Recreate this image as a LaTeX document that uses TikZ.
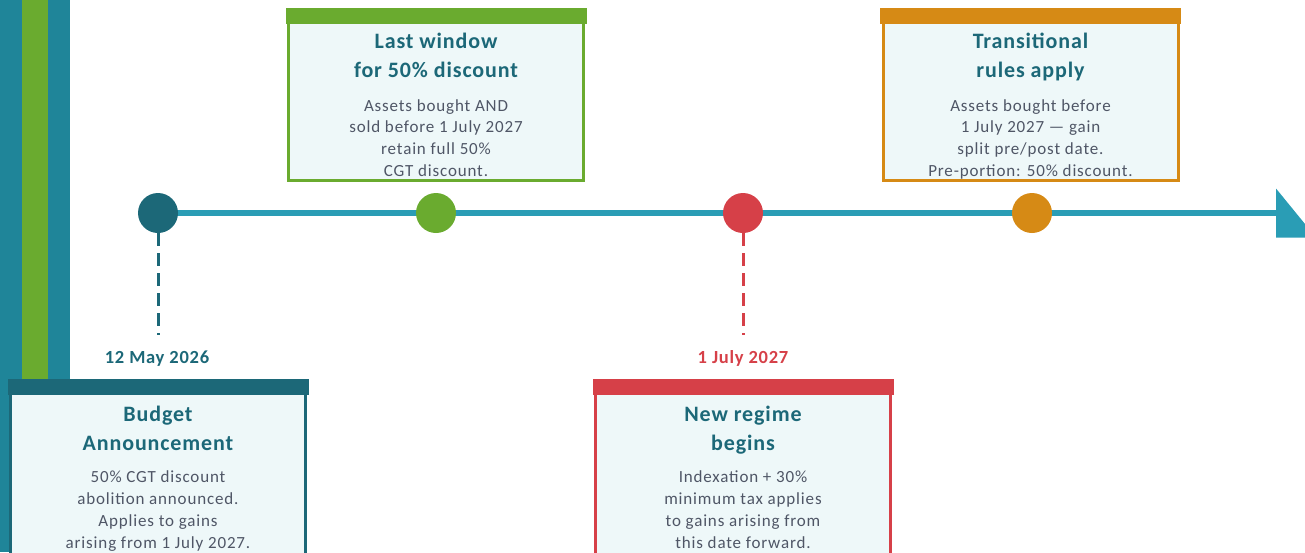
\documentclass[tikz,border=0pt]{standalone}
\usepackage{fontspec}
\setmainfont{Carlito}
\newfontfamily\spacedfont[LetterSpace=4]{Carlito}
\newfontfamily\bodyfont[LetterSpace=5]{Carlito}
\usetikzlibrary{positioning}

\definecolor{deepteal}{HTML}{1C6878}
\definecolor{barteal}{HTML}{1F8599}
\definecolor{lineteal}{HTML}{2A9DB5}
\definecolor{leafgreen}{HTML}{6AAB2F}
\definecolor{alertred}{HTML}{D64048}
\definecolor{amber}{HTML}{D68A15}
\definecolor{cardfill}{HTML}{EEF8F9}
\definecolor{bodygray}{HTML}{4F5666}

\begin{document}
\begin{tikzpicture}[x=1pt,y=-1pt,
 dot/.style={circle,fill=#1,minimum size=40pt,inner sep=0pt},
 card/.style={draw=#1,line width=3pt,fill=cardfill,minimum width=295pt,minimum height=170pt,inner sep=0pt},
 cardtitle/.style={anchor=base,inner sep=0pt,align=center,text=deepteal,font=\spacedfont\fontsize{22}{29}\selectfont\bfseries},
 cardbody/.style={anchor=base,inner sep=0pt,align=center,text=bodygray,font=\bodyfont\fontsize{17}{21.8}\selectfont},
 datelabel/.style={anchor=base,inner sep=0pt,font=\spacedfont\fontsize{18.5}{20}\selectfont\bfseries},
 stem/.style={line width=3pt,dash pattern=on 13pt off 7pt}]
 \useasboundingbox (0,0) rectangle (1305,552);
 \clip (0,0) rectangle (1305,552);
 % side bars
 \fill[barteal] (0,0) rectangle (70,552);
 \fill[leafgreen] (22,0) rectangle (48,552);

 % timeline with arrowhead
 \coordinate (start) at (158,213);
 \coordinate (arrowbase) at (1276,213);
 \draw[lineteal,line width=6pt] (start) -- (arrowbase);
 \fill[lineteal] ([yshift=24.5pt]arrowbase) -- ([yshift=-24.5pt]arrowbase) -- ++(40,0) -- cycle;

 % dots on the timeline
 \node[dot=deepteal] (may) at (start) {};
 \node[dot=leafgreen] (window) at (436,213) {};
 \node[dot=alertred] (july) at (743,213) {};
 \node[dot=amber] (transit) at (1032,213) {};

 % stems and dates
 \coordinate (mayend) at (158,335);
 \coordinate (julyend) at (743,335);
 \draw[deepteal,stem] (may.south) -- (mayend);
 \draw[alertred,stem] (july.south) -- (julyend);
 \node[datelabel,text=deepteal] (maydate) at (157,363) {12 May 2026};
 \node[datelabel,text=alertred] (julydate) at (743,363) {1 July 2027};

 % cards (lower ones run past the edge)
 \node[card=deepteal,minimum height=190pt] (maycard) at (158,476.5) {};
 \node[card=leafgreen] (windowcard) at (436,95.5) {};
 \node[card=alertred,minimum height=190pt] (julycard) at (743,476.5) {};
 \node[card=amber] (transitcard) at (1030.5,95.5) {};
 \filldraw[deepteal,line width=3pt] (maycard.north west) rectangle ([yshift=-13pt]maycard.north east);
 \filldraw[leafgreen,line width=3pt] (windowcard.north west) rectangle ([yshift=-13pt]windowcard.north east);
 \filldraw[alertred,line width=3pt] (julycard.north west) rectangle ([yshift=-13pt]julycard.north east);
 \filldraw[amber,line width=3pt] (transitcard.north west) rectangle ([yshift=-13pt]transitcard.north east);

 \node[cardtitle] (maytitle) at (158,450.5) {Budget\\Announcement};
 \node[cardbody] (maytext) at (158,548) {50\% CGT discount\\abolition announced.\\Applies to gains\\arising from 1 July 2027.};
 \node[cardtitle] (windowtitle) at (436,77.5) {Last window\\for 50\% discount};
 \node[cardbody] (windowtext) at (436,176.5) {Assets bought AND\\sold before 1 July 2027\\retain full 50\%\\CGT discount.};
 \node[cardtitle] (julytitle) at (743,450.5) {New regime\\begins};
 \node[cardbody] (julytext) at (743,548) {Indexation + 30\%\\minimum tax applies\\to gains arising from\\this date forward.};
 \node[cardtitle] (transittitle) at (1030.5,77.5) {Transitional\\rules apply};
 \node[cardbody] (transittext) at (1030.5,176.5) {Assets bought before\\1 July 2027 — gain\\split pre/post date.\\Pre-portion: 50\% discount.};
\end{tikzpicture}
\end{document}
